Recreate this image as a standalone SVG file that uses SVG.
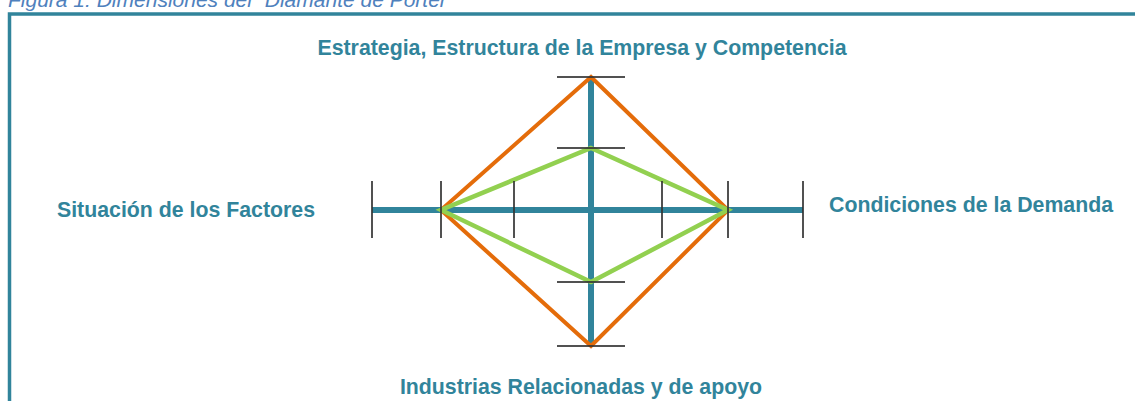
<svg xmlns="http://www.w3.org/2000/svg" width="1135" height="401" viewBox="0 0 1135 401">
<style>
.lbl{font-family:"Liberation Sans",Arial,sans-serif;font-weight:bold;font-size:21.3px;fill:#31849B}
.cap{font-family:"Liberation Sans",Arial,sans-serif;font-style:italic;font-size:21px;fill:#4F81BD}
.axis{stroke:#31849B;stroke-width:6;fill:none}
.tick{stroke:#333;stroke-width:2;fill:none;opacity:0.85}
.orange{stroke:#E46C0A;stroke-width:4;fill:none;stroke-linejoin:miter}
.green{stroke:#92D050;stroke-width:4.5;fill:none;stroke-linejoin:miter}
</style>
<rect width="1135" height="401" fill="#ffffff"/>
<g id="caption"><text class="cap" x="8" y="7">Figura 1: Dimensiones del “Diamante de Porter”</text></g>
<g id="frame"><rect x="9.5" y="14" width="1200" height="500" fill="none" stroke="#31849B" stroke-width="3.5"/></g>
<g id="connectors">
<g id="axes">
<line class="axis" x1="372" y1="210" x2="803" y2="210"/>
<line class="axis" x1="591" y1="77" x2="591" y2="346"/>
</g>
<g id="diamonds">
<polygon class="orange" points="591,77 728,210 591,346 441,210"/>
<polygon class="green" points="591,148 728,210 591,282 441,210"/>
</g>
<g id="ticks">
<line class="tick" x1="372" y1="181" x2="372" y2="238"/>
<line class="tick" x1="441" y1="181" x2="441" y2="238"/>
<line class="tick" x1="514" y1="181" x2="514" y2="238"/>
<line class="tick" x1="662" y1="181" x2="662" y2="238"/>
<line class="tick" x1="728" y1="181" x2="728" y2="238"/>
<line class="tick" x1="803" y1="181" x2="803" y2="238"/>
<line class="tick" x1="557" y1="77" x2="625" y2="77"/>
<line class="tick" x1="557" y1="148" x2="625" y2="148"/>
<line class="tick" x1="557" y1="282" x2="625" y2="282"/>
<line class="tick" x1="557" y1="346" x2="625" y2="346"/>
</g>
</g>
<g id="node-top"><text class="lbl" x="582" y="55" text-anchor="middle">Estrategia, Estructura de la Empresa y Competencia</text></g>
<g id="node-left"><text class="lbl" x="57" y="217">Situación de los Factores</text></g>
<g id="node-right"><text class="lbl" x="829" y="212">Condiciones de la Demanda</text></g>
<g id="node-bottom"><text class="lbl" x="581" y="394" text-anchor="middle">Industrias Relacionadas y de apoyo</text></g>
</svg>
